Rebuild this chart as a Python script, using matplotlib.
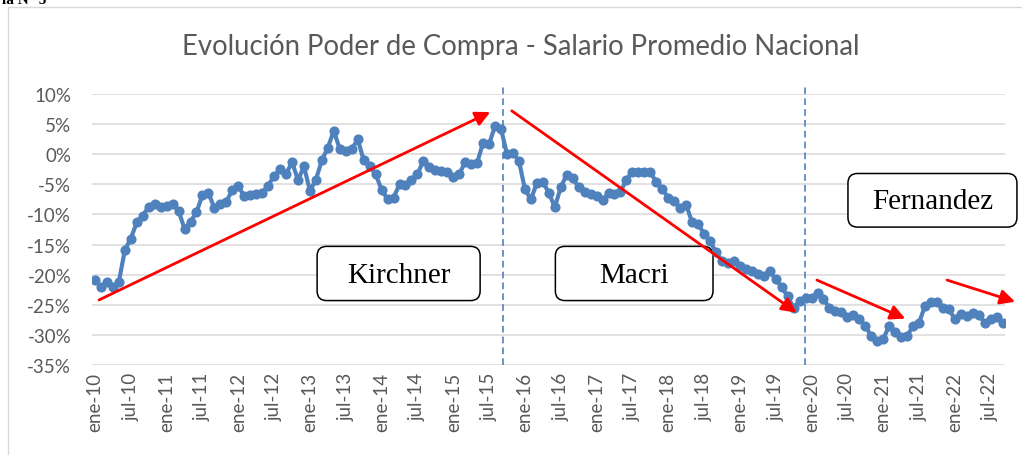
import numpy as np
import matplotlib.pyplot as plt
from matplotlib.patches import FancyBboxPatch, Rectangle

# ─── datos ─────────────────────────────────────────
# variación % del poder de compra, mensual ene-10 .. sep-22
poder_compra = [
    -20.9, -22.0, -21.2, -22.0, -21.2, -15.9, -14.0, -11.3, -10.2, -8.7,
    -8.3, -8.7, -8.6, -8.3, -9.4, -12.4, -11.2, -9.6, -6.8, -6.5,
    -8.9, -8.2, -7.9, -5.9, -5.3, -7.0, -6.8, -6.6, -6.4, -5.2,
    -3.6, -2.5, -3.3, -1.3, -4.3, -2.0, -6.1, -4.2, -1.0, 1.1,
    3.9, 0.8, 0.6, 0.8, 2.5, -1.0, -2.0, -3.3, -5.9, -7.5,
    -7.2, -5.0, -5.1, -4.3, -3.3, -1.1, -2.2, -2.6, -2.8, -3.0,
    -3.7, -3.3, -1.3, -1.6, -1.4, 1.9, 1.7, 4.7, 4.2, 0.0,
    0.2, -1.1, -5.8, -7.5, -4.8, -4.6, -6.4, -8.8, -5.5, -3.4,
    -4.0, -5.5, -6.2, -6.6, -7.0, -7.6, -6.5, -6.6, -6.3, -4.2,
    -2.9, -2.9, -3.0, -3.0, -4.6, -5.8, -7.2, -7.8, -8.9, -8.4,
    -11.3, -11.6, -13.2, -14.4, -16.3, -17.7, -18.1, -17.7, -18.5, -19.0,
    -19.4, -19.9, -20.2, -19.4, -20.8, -22.1, -23.6, -25.5, -24.4, -23.8,
    -23.8, -23.0, -24.1, -25.5, -26.0, -26.2, -27.0, -26.7, -27.3, -28.5,
    -30.2, -31.0, -30.7, -28.5, -29.6, -30.4, -30.2, -28.5, -28.0, -25.2,
    -24.5, -24.5, -25.5, -25.7, -27.4, -26.6, -26.9, -26.3, -26.7, -28.0,
    -27.4, -27.1, -28.1,
]
x_labels = ['ene-10', 'jul-10', 'ene-11', 'jul-11', 'ene-12', 'jul-12',
            'ene-13', 'jul-13', 'ene-14', 'jul-14', 'ene-15', 'jul-15',
            'ene-16', 'jul-16', 'ene-17', 'jul-17', 'ene-18', 'jul-18',
            'ene-19', 'jul-19', 'ene-20', 'jul-20', 'ene-21', 'jul-21',
            'ene-22', 'jul-22']
y_ticks = [10, 5, 0, -5, -10, -15, -20, -25, -30, -35]
gobiernos = ['Kirchner', 'Macri', 'Fernandez']

W, H = 1022, 456
GRIS = '#595959'
AZUL = '#4f81bd'
TICK_FONT = ['Lato', 'DejaVu Sans']

fig = plt.figure(figsize=(W / 100, H / 100), dpi=100)
fig.patch.set_facecolor('white')

# marco del gráfico
fig.add_artist(Rectangle((8 / W, -0.1), 1.2, 1 - 8 / H + 0.1, transform=fig.transFigure,
                         facecolor='none', edgecolor='#d9d9d9', lw=1.0))
fig.text(2 / W, 1 - 4 / H, 'la N° 5', fontsize=11, fontweight='bold',
         family='Liberation Serif', va='baseline', ha='left')

ax = fig.add_axes([92 / W, 1 - 366 / H, (1005 - 92) / W, (366 - 95) / H])
x = np.arange(len(poder_compra))

ax.plot(x, poder_compra, color=AZUL, lw=3.0, marker='o', ms=7.3,
        markeredgewidth=0, zorder=4)

ax.set_xlim(-0.5, 152.4)
ax.set_ylim(-35, 10)
ax.set_yticks(y_ticks)
ax.set_yticklabels([f'{v}%' for v in y_ticks])
ax.set_xticks(x[::6])
ax.set_xticklabels(x_labels, rotation=90)
ax.grid(axis='y', color='#d9d9d9', lw=1.1, zorder=0)
for s in ax.spines.values():
    s.set_visible(False)
ax.tick_params(axis='both', length=0, colors=GRIS, labelsize=13.5)
ax.tick_params(axis='y', pad=15)
ax.tick_params(axis='x', pad=5)
for lab in ax.get_xticklabels() + ax.get_yticklabels():
    lab.set_family(TICK_FONT)

fig.text(521 / W, 1 - 47 / H, 'Evolución Poder de Compra - Salario Promedio Nacional',
         ha='center', va='center', fontsize=19.8, color=GRIS, family=TICK_FONT)

# líneas de cambio de gobierno
for xv in (68.3, 118.9):
    ax.plot([xv, xv], [-35, 11.2], color=AZUL, lw=1.2, ls=(0, (4, 2.5)),
            clip_on=False, zorder=3)

# cajas de texto
cajas = [(37.2, 64.5, -24.3, -15.3), (77.1, 103.5, -24.3, -15.3),
         (126.1, 154.4, -12.1, -3.2)]
for nombre, (x0, x1, y0, y1) in zip(gobiernos, cajas):
    box = FancyBboxPatch((x0, y0), x1 - x0, y1 - y0,
                         boxstyle='round,pad=0,rounding_size=1.6',
                         mutation_aspect=5.97 / 6.02,
                         facecolor='white', edgecolor='black', lw=1.1,
                         clip_on=False, zorder=3)
    ax.add_patch(box)
    ax.text((x0 + x1) / 2, (y0 + y1) / 2 - 0.2, nombre, ha='center', va='center',
            fontsize=21, family='Liberation Serif', color='black', zorder=5)

# flechas de tendencia
flechas = [((0.67, -24.2), (66.2, 7.0)),
           ((69.8, 7.2), (117.5, -26.3)),
           ((120.9, -20.9), (135.7, -27.3)),
           ((142.7, -20.9), (154.1, -24.5))]
for ini, fin in flechas:
    ax.annotate('', xy=fin, xytext=ini, annotation_clip=False,
                arrowprops=dict(arrowstyle='-|>', color='#ff0000', lw=2.0,
                                mutation_scale=22, shrinkA=0, shrinkB=0),
                zorder=6)

fig.savefig('out.png', dpi=100, facecolor='white')
